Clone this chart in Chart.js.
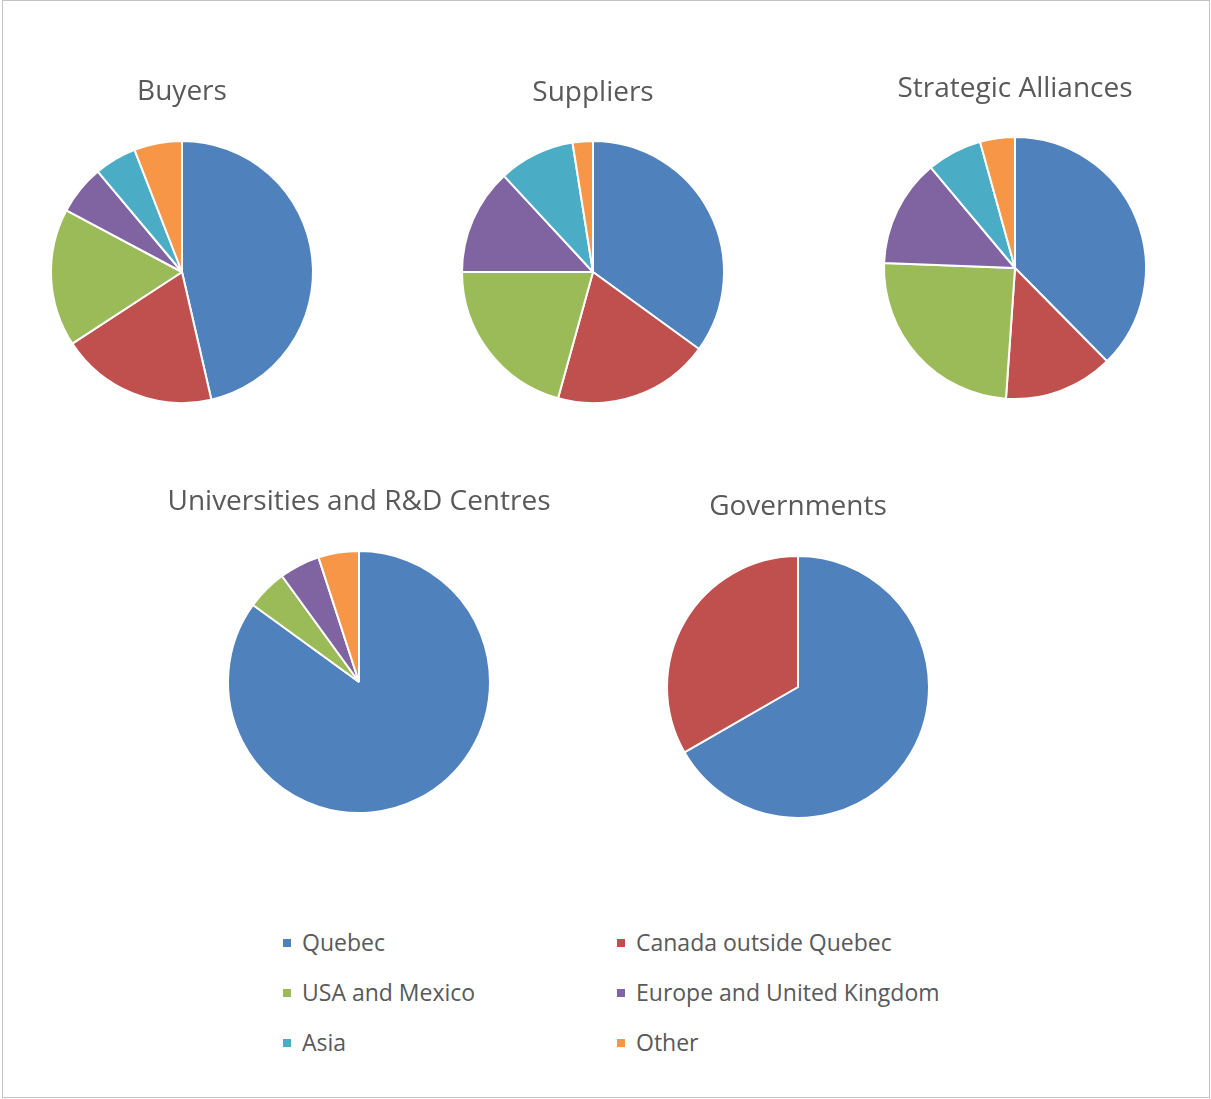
<!DOCTYPE html>
<html>
<head>
<meta charset="utf-8">
<script src="https://cdn.jsdelivr.net/npm/chart.js@4.4.1/dist/chart.umd.min.js"></script>
<style>
  html, body { margin: 0; padding: 0; background: #fff; }
  body { width: 1211px; height: 1099px; position: relative; overflow: hidden; }
  #frame { position: absolute; left: 2px; top: 0; width: 1208px; height: 1098px; border: 1px solid #c3c3c3; box-sizing: border-box; }
  canvas { position: absolute; }
  .lg { position: absolute; font-family: "Open Sans", sans-serif; font-size: 23px; color: #595959; white-space: nowrap; line-height: 30px; }
  .lg span.box { display: inline-block; width: 8px; height: 8px; margin-right: 11px; vertical-align: middle; position: relative; top: -2px; }
</style>
</head>
<body>
<div id="frame"></div>
<canvas id="buyers"></canvas>
<canvas id="suppliers"></canvas>
<canvas id="alliances"></canvas>
<canvas id="universities"></canvas>
<canvas id="governments"></canvas>
<div id="legend"></div>
<script>
const regions = ['Quebec', 'Canada outside Quebec', 'USA and Mexico', 'Europe and United Kingdom', 'Asia', 'Other'];
const colors = ['#4f81bd', '#c0504d', '#9bbb59', '#8064a2', '#4bacc6', '#f79646'];

const buyers = [46.4, 19.4, 17.0, 6.1, 5.2, 5.9];
const suppliers = [35.0, 19.3, 20.7, 13.1, 9.4, 2.5];
const alliances = [37.6, 13.5, 24.5, 13.3, 6.8, 4.3];
const universities = [85, 0, 5, 5, 0, 5];
const governments = [66.7, 33.3, 0, 0, 0, 0];

const R = 131;
const W = 480;

function makePie(id, title, values, cx, cy, titleY) {
    const el = document.getElementById(id);
    const top = titleY - 16;
    const areaTop = cy - R - 4;
    const bottom = cy + R + 4;
    el.width = W;
    el.height = bottom - top;
    el.style.left = (cx - W / 2) + 'px';
    el.style.top = top + 'px';

    return new Chart(el, {
        type: 'pie',
        data: {
            labels: regions,
            datasets: [{
                data: values,
                backgroundColor: colors,
                borderColor: '#ffffff',
                borderWidth: 2,
                radius: R,
            }],
        },
        options: {
            responsive: false,
            animation: false,
            layout: { padding: 0 },
            plugins: {
                legend: { display: false },
                tooltip: { enabled: false },
                title: {
                    display: true,
                    text: title,
                    color: '#595959',
                    font: { family: '"Open Sans", sans-serif', size: 28, weight: 'normal', lineHeight: 1.25 },
                    padding: { top: 0, bottom: areaTop - (titleY + 19) },
                },
            },
        },
    });
}

makePie('buyers', 'Buyers', buyers, 182, 272, 91);
makePie('suppliers', 'Suppliers', suppliers, 593, 272, 92);
makePie('alliances', 'Strategic Alliances', alliances, 1015, 268, 88);
makePie('universities', 'Universities and R&D Centres', universities, 359, 682, 501);
makePie('governments', 'Governments', governments, 798, 687, 506);

// legend, two columns
const legend = document.getElementById('legend');
const colX = [283, 617];
const rowY = [942, 992, 1042];
regions.forEach((name, i) => {
    const d = document.createElement('div');
    d.className = 'lg';
    d.style.left = colX[i % 2] + 'px';
    d.style.top = (rowY[Math.floor(i / 2)] - 15) + 'px';
    d.innerHTML = '<span class="box" style="background:' + colors[i] + '"></span>' + name;
    legend.appendChild(d);
});
</script>
</body>
</html>
